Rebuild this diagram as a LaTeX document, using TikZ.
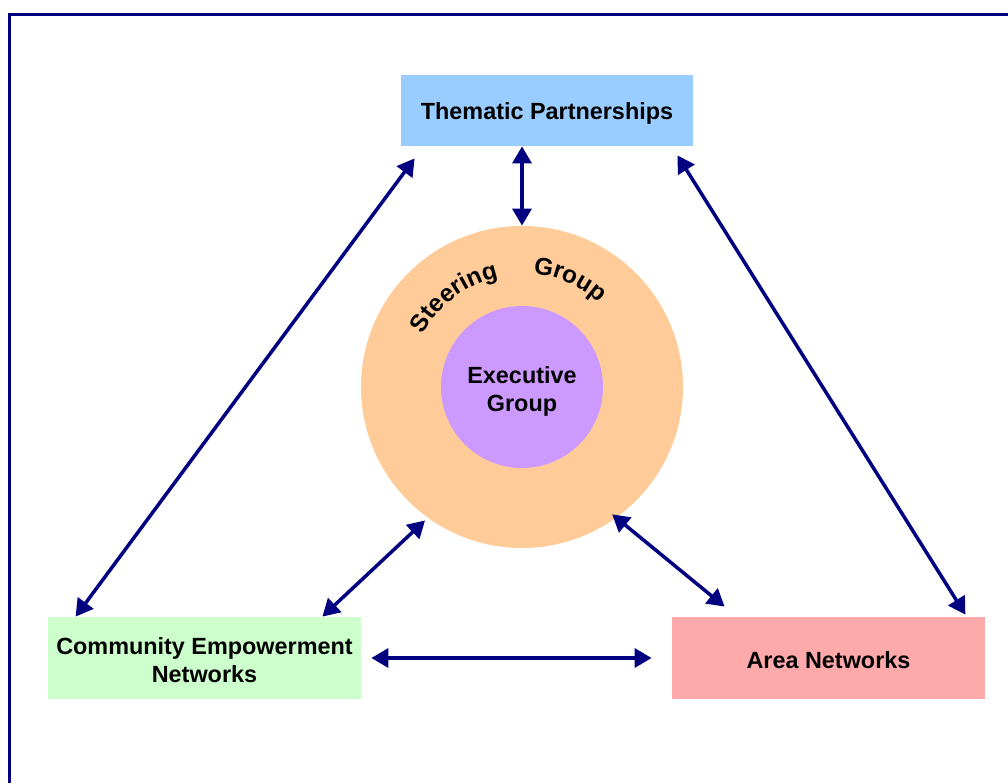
\documentclass[tikz,border=0pt]{standalone}
\usepackage{fontspec}
\setmainfont{Liberation Sans}
\usetikzlibrary{arrows.meta,calc,decorations.text}
\definecolor{navy}{HTML}{000080}
\definecolor{tpblue}{HTML}{99CCFF}
\definecolor{steerorange}{HTML}{FFCC99}
\definecolor{execpurple}{HTML}{CC99FF}
\definecolor{cengreen}{HTML}{CCFFCC}
\definecolor{areapink}{HTML}{FFAAAA}
\newcommand{\labfont}{\fontsize{11.7}{14}\selectfont\bfseries}
\newcommand{\arcfont}{\fontsize{12.2}{14}\selectfont\bfseries}
\begin{document}
\begin{tikzpicture}[x=0.5pt,y=0.5pt,
  lab/.style={font=\labfont, align=center, text=black, inner sep=0pt},
  box/.style={rectangle, inner sep=0pt},
  arr/.style={draw=navy, line width=1.75pt,
    {Triangle[length=8.5pt,width=9.5pt]}-{Triangle[length=8.5pt,width=9.5pt]}},
  curved/.style={decorate, decoration={text along path, text align=center, text={|\arcfont|#1}}}]
\useasboundingbox (0,0) rectangle (1008,783);
\draw[navy, line width=1.5pt] (9,0) -- (9,768) -- (1008,768);

\node[box, fill=tpblue, minimum width=146pt, minimum height=35.5pt] (tp) at (547,672.5) {};
\node[lab] (tplab) at ($(tp.center)+(0,-3)$) {Thematic Partnerships};
\node[circle, fill=steerorange, minimum size=161pt, inner sep=0pt] (steer) at (522,396) {};
\node[circle, fill=execpurple, minimum size=81pt, inner sep=0pt] (exec) at (522,396) {};
\node[lab] (execlab) at ($(exec.center)+(0,-4)$) {Executive\\Group};
\node[box, fill=cengreen, minimum width=156.5pt, minimum height=41pt] (cen) at (204.5,125) {};
\node[lab] (cenlab) at ($(cen.center)+(0,-2)$) {Community Empowerment\\Networks};
\node[box, fill=areapink, minimum width=156.5pt, minimum height=41pt] (area) at (828.5,125) {};
\node[lab] (arealab) at ($(area.center)+(0,-2)$) {Area Networks};

\path[curved=Steering] ($(steer.center)+(167:112)$) arc[start angle=167, end angle=87, radius=112];
\path[curved=Group] ($(steer.center)+(106:114)$) arc[start angle=106, end angle=26, radius=114];

\draw[arr] ($(tp.south)+(-25,0)$) -- (steer.north);
\draw[arr] ($(tp.south west)+(14,-12)$) -- ($(cen.north west)+(28,0)$);
\draw[arr] ($(tp.south east)+(-16,-9)$) -- ($(area.north east)+(-20,2)$);
\draw[arr] ($(steer.center)+(234:165)$) -- ($(cen.north east)+(-39,0)$);
\draw[arr] ($(steer.center)+(-54.7:156)$) -- ($(area.north west)+(53,10)$);
\draw[arr] ($(cen.east)+(10,0)$) -- ($(area.west)+(-20,0)$);
\end{tikzpicture}
\end{document}
